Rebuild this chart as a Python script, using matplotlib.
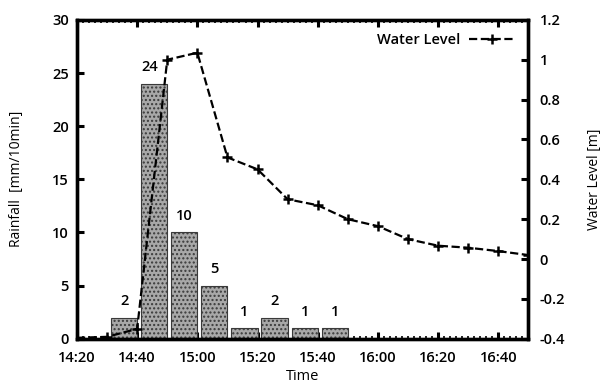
import matplotlib
matplotlib.use("agg")
import matplotlib.pyplot as plt
from matplotlib.ticker import MultipleLocator

plt.rcParams["font.family"] = ["Open Sans", "DejaVu Sans"]
plt.rcParams["font.weight"] = "semibold"

# rainfall per 10 min interval, keyed by interval end time
rainTimes = ["14:40", "14:50", "15:00", "15:10", "15:20", "15:30", "15:40", "15:50"]
rainfall = [2, 24, 10, 5, 1, 2, 1, 1]

levelTimes = ["14:20", "14:30", "14:40", "14:50", "15:00", "15:10", "15:20", "15:30",
              "15:40", "15:50", "16:00", "16:10", "16:20", "16:30", "16:40", "16:50"]
waterLevel = [-0.395, -0.39, -0.35, 1.0, 1.035, 0.51, 0.45, 0.30,
              0.27, 0.20, 0.165, 0.10, 0.067, 0.057, 0.04, 0.02]

tickLabels = ["14:20", "14:40", "15:00", "15:20", "15:40", "16:00", "16:20", "16:40"]


def toMin(t):
    h, m = t.split(":")
    return (int(h) - 14) * 60 + int(m) - 20


fig = plt.figure(figsize=(6.06, 3.89), dpi=100)
ax = fig.add_axes([0.127, 0.129, 0.745, 0.82])
ax2 = ax.twinx()

barX = [toMin(t) for t in rainTimes]
ax.bar(barX, rainfall, width=-8.7, align="edge", facecolor="#a8a8a8",
       edgecolor="#3a3a3a", linewidth=0.8, hatch="....", zorder=2)
for x, v in zip(barX, rainfall):
    dx = -3 if v > 20 else 0
    ax.annotate(str(v), (x - 4.35, v), xytext=(dx, 12), textcoords="offset points",
                ha="center", va="center", fontsize=10.5)

ax2.plot([toMin(t) for t in levelTimes], waterLevel, color="black", linestyle="--",
         linewidth=1.6, marker="+", markersize=7, markeredgewidth=1.8,
         label="Water Level")

ax.set_xlim(0, 150)
ax.set_ylim(0, 30)
ax2.set_ylim(-0.4, 1.2)
ax.set_xticks([toMin(t) for t in tickLabels])
ax.set_xticklabels(tickLabels)
ax.xaxis.set_minor_locator(MultipleLocator(2))
ax.yaxis.set_major_locator(MultipleLocator(5))
ax2.yaxis.set_major_locator(MultipleLocator(0.2))
ax2.set_yticklabels([f"{v:g}" if abs(v) > 1e-9 else "0" for v in ax2.get_yticks()])

ax.tick_params(axis="y", which="major", direction="in", length=5, width=2.2,
               labelsize=10.5, pad=6)
ax.tick_params(axis="x", which="major", direction="in", length=5, width=2.2,
               labelsize=10.5, pad=9, top=True)
ax.tick_params(axis="x", which="minor", direction="in", length=2, width=1.2, top=True)
ax2.tick_params(axis="y", which="major", direction="in", length=5, width=2.2,
                labelsize=10.5, pad=8)
for a in (ax, ax2):
    for s in a.spines.values():
        s.set_linewidth(2.4)

ax.set_xlabel("Time", fontsize=10.5, labelpad=3)
ax.set_ylabel("Rainfall  [mm/10min]", fontsize=10, labelpad=20)
ax2.set_ylabel("Water Level [m]", fontsize=10, labelpad=16)

ax2.legend(loc="upper right", frameon=False, markerfirst=False, fontsize=10.5,
           handlelength=3.2, borderaxespad=0.5, handletextpad=0.6)

fig.savefig("out.png", dpi=100)
